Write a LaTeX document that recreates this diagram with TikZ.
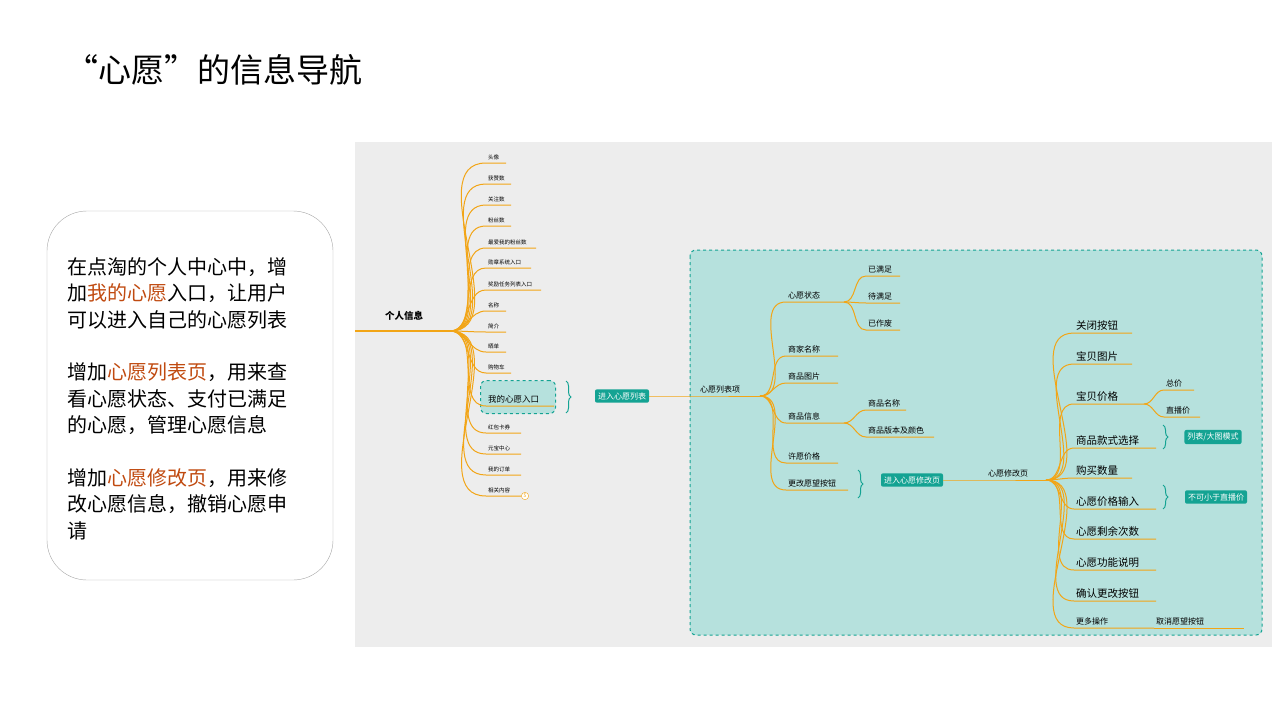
\documentclass[tikz,border=0pt]{standalone}
\usepackage{fontspec}
\setmainfont{Noto Sans CJK SC}
\usetikzlibrary{decorations.pathreplacing,positioning}
\definecolor{branch}{HTML}{F2A516}
\definecolor{tealfill}{HTML}{B6E1DD}
\definecolor{tealdark}{HTML}{14A393}
\definecolor{hilite}{HTML}{C04A10}
\begin{document}
\begin{tikzpicture}[
    x=1pt, y=-1pt,
    br/.style={draw=branch, line width=1pt},
    lbl/.style={anchor=south west, inner xsep=2pt, inner ysep=2.5pt, font=\fontsize{5.5}{6}\selectfont},
    mid/.style={lbl, font=\fontsize{8}{9}\selectfont},
    big/.style={lbl, font=\fontsize{10.5}{12}\selectfont},
    btn/.style={fill=tealdark, text=white, rounded corners=2pt, font=\fontsize{8}{9}\selectfont, inner sep=3pt},
    brc/.style={draw=tealdark, line width=1pt, decorate, decoration={brace, amplitude=5pt}}
]
    \useasboundingbox (0,0) rectangle (1280,720);
    % title and text
    \node[anchor=west, font=\fontsize{33}{40}\selectfont] (title) at (62,70) {“心愿”的信息导航};
    \draw[draw=gray!70, rounded corners=40pt] (47,211) rectangle (333,580);
    \node[anchor=north west, align=left, font=\fontsize{20}{26.5}\selectfont] (intro) at (64,254)
      {在点淘的个人中心中，增\\加\textcolor{hilite}{我的心愿}入口，让用户\\可以进入自己的心愿列表\\[26pt]
       增加\textcolor{hilite}{心愿列表页}，用来查\\看心愿状态、支付已满足\\的心愿，管理心愿信息\\[26pt]
       增加\textcolor{hilite}{心愿修改页}，用来修\\改心愿信息，撤销心愿申\\请};
    % backgrounds
    \fill[gray!14] (355,142) rectangle (1272,647);
    \draw[tealdark, fill=tealfill, dashed, line width=1pt, rounded corners=6pt] (690,250) rectangle (1262,635);

    % left tree
    \node[lbl, font=\fontsize{9.5}{11}\selectfont\bfseries] (root) at (383,323) {个人信息};
    \draw[br, line width=2pt] (355,331) -- (450,331) coordinate (p0);
    \node[draw=tealdark, dashed, line width=1pt, fill=tealfill, rounded corners=6pt, minimum width=75pt, minimum height=33pt] (wishbox) at (518,397) {};
    \foreach \name/\y/\w in {头像/163/20, 获赞数/184/25, 关注数/205/25, 粉丝数/226/25,
        最爱我的粉丝数/248/50, 勋章系统入口/268/45, 奖励任务列表入口/290/55, 名称/311/20,
        简介/332/20, 晒单/352/20, 购物车/373/25, 红包卡券/433/35, 元宝中心/454/35,
        我的订单/475/35, 相关内容/496/35} {
      \node[lbl] (a\y) at (486,\y) {\name};
      \draw[br] (p0) to[out=0, in=180] (a\y.south west) -- ++(\w,0);
    }
    \node[lbl, font=\fontsize{8.5}{9}\selectfont] (wish) at (486,406) {我的心愿入口};
    \draw[br] (p0) to[out=0, in=180] (wish.south west) -- ++(68,0);
    \node[draw=branch, circle, inner sep=1pt, font=\fontsize{5}{6}\selectfont, text=branch, fill=white] (more1) at (525,496) {5};
    \draw[brc] (566,381) -- (566,413);
    \node[btn] (tolist) at (622,396) {进入心愿列表};

    % wish list page
    \node[mid] (list) at (698,396) {心愿列表项};
    \draw[br] (tolist) -- (list.south west) -- ++(62,0) coordinate (p1);
    \node[mid] (state) at (786,302) {心愿状态};
    \node[mid] (shop) at (786,356) {商家名称};
    \node[mid] (pic) at (786,383) {商品图片};
    \node[mid] (info) at (786,423) {商品信息};
    \node[mid] (price) at (786,463) {许愿价格};
    \node[mid] (change) at (786,490) {更改愿望按钮};
    \foreach \c/\w in {state/58, shop/52, pic/52, info/58, price/52, change/62}
      \draw[br] (p1) to[out=0, in=180] (\c.south west) -- ++(\w,0);
    \node[mid] (done) at (866,276) {已满足};
    \node[mid] (wait) at (866,303) {待满足};
    \node[mid] (void) at (866,330) {已作废};
    \foreach \c in {done, wait, void}
      \draw[br] (844,302) to[out=0, in=180] (\c.south west) -- ++(34,0);
    \node[mid] (gname) at (866,410) {商品名称};
    \node[mid] (gver) at (866,437) {商品版本及颜色};
    \draw[br] (844,423) to[out=0, in=180] (gname.south west) -- ++(40,0);
    \draw[br] (844,423) to[out=0, in=180] (gver.south west) -- ++(68,0);
    \draw[brc] (858,470) -- (858,498);
    \node[btn] (toedit) at (912,480) {进入心愿修改页};

    % wish edit page
    \node[mid] (edit) at (986,480) {心愿修改页};
    \draw[br] (toedit) -- (edit.south west) -- ++(60,0) coordinate (p2);
    \foreach \name/\y/\w/\n in {关闭按钮/333/58/e1, 宝贝图片/364/58/e2, 宝贝价格/404/70/e3,
        商品款式选择/448/82/e4, 购买数量/478/58/e5, 心愿价格输入/509/82/e6,
        心愿剩余次数/539/82/e7, 心愿功能说明/570/82/e8, 确认更改按钮/601/82/e9} {
      \node[big] (\n) at (1074,\y) {\name};
      \draw[br] (p2) to[out=0, in=180] (\n.south west) -- ++(\w,0);
    }
    \node[mid] (e10) at (1074,628) {更多操作};
    \draw[br] (p2) to[out=0, in=180] (e10.south west) -- ++(80,0);
    \node[mid] (cancel) at (1154,628) {取消愿望按钮};
    \draw[br] (e10.south west) ++(80,0) -- ++(90,0);
    \node[mid] (total) at (1164,390) {总价};
    \node[mid] (live) at (1164,417) {直播价};
    \draw[br] (1144,404) to[out=0, in=180] (total.south west) -- ++(30,0);
    \draw[br] (1144,404) to[out=0, in=180] (live.south west) -- ++(36,0);
    \draw[brc] (1163,425) -- (1163,449);
    \node[btn] (mode) at (1213,437) {列表/大图模式};
    \draw[brc] (1163,485) -- (1163,509);
    \node[btn] (limit) at (1216,497) {不可小于直播价};
\end{tikzpicture}
\end{document}
